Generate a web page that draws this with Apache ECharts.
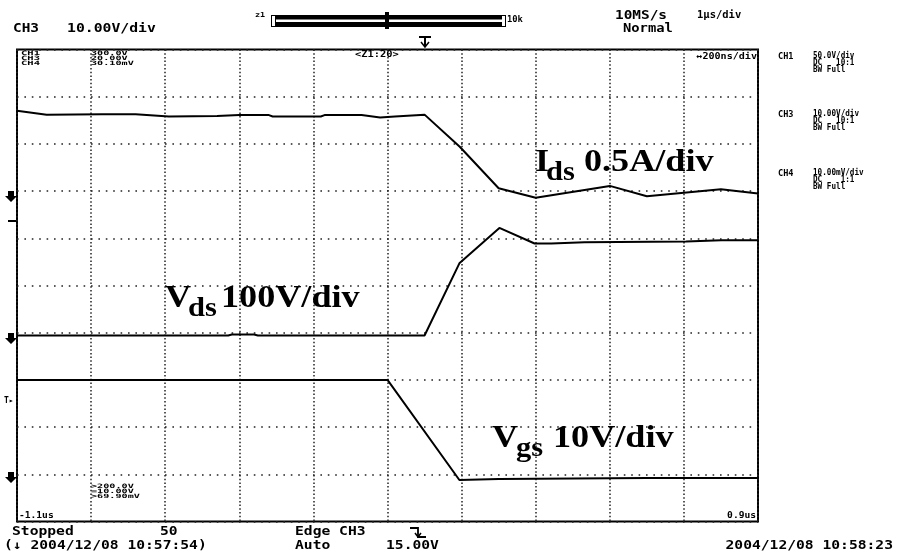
<!DOCTYPE html>
<html><head><meta charset="utf-8">
<script src="https://cdn.jsdelivr.net/npm/echarts@6/dist/echarts.min.js"></script>
<style>html,body{margin:0;padding:0;background:#fff}#c{width:897px;height:558px}</style>
</head><body><div id="c"></div>
<script>
// ---- data (time in ns relative to trigger) ----
const T_START = -1100;            // left edge of record, ns
const T_SPAN = 2000;               // record length, ns
const DIV_NS = 200;                // ns per division

const idsTime = [-1100,-1020,-870,-780,-690,-560,-500,-420,-410,-280,-270,-170,-120,-80,0,95,200,300,500,600,800,900];
const idsAmp  = [0.90,0.86,0.865,0.865,0.84,0.845,0.855,0.855,0.84,0.84,0.855,0.855,0.83,0.84,0.86,0.52,0.08,-0.02,0.105,-0.005,0.07,0.025];

const vdsTime = [-1100,-530,-520,-460,-450,0,94,202,297,342,432,706,801,900];
const vdsVolt = [0,0,2,2,0,0,153,228,195,195,197.5,199,202,202];

const vgsTime = [-1100,-100,94,200,400,600,900];
const vgsVolt = [20.8,20.8,-0.4,-0.2,-0.1,0,0];

// per-trace vertical scale (units/div) and ground position (div from bottom)
const idsScale = 0.5, idsGround = 6.9;
const vdsScale = 100, vdsGround = 3.94;
const vgsScale = 10,  vgsGround = 0.92;

function trace(times, vals, scale, ground){
  return times.map((t,i)=>[t - T_START, ground + vals[i]/scale]);
}

const chart = echarts.init(document.getElementById('c'), null, {renderer:'canvas'});
const MONO = '"DejaVu Sans Mono", monospace';
const SERIF = '"Liberation Serif", "Times New Roman", serif';

function T(text, x, y, size, opts){
  opts = opts || {};
  return {
    type:'text', x:x, y:y, scaleX: opts.sx||1, scaleY: opts.sy||1, z:100,
    style:{ text:text, x:0, y:0, fill:'#000',
      font:(opts.weight||'bold')+' '+size+'px '+(opts.family||MONO),
      textAlign: opts.align||'left', textVerticalAlign: opts.va||'top',
      lineHeight: opts.lh }
  };
}
function L(points, w){
  return {type:'polyline', z:100, shape:{points:points}, style:{stroke:'#000', lineWidth:w||1.5, fill:null}};
}
function groundMark(y){
  return {type:'polygon', z:100, shape:{points:[[8,y-5],[14,y-5],[14,y],[17,y],[11,y+6],[5,y],[8,y]]}, style:{fill:'#000'}};
}
// big serif label: main text at baseline y, subscript lower
function bigLabel(main, sub, rest, x, base, subX, restX){
  return [
    T(main, x, base-25, 32, {family:SERIF, sx:1.13}),
    T(sub, subX, base-12, 27, {family:SERIF, sx:1.13}),
    T(rest, restX, base-25, 32, {family:SERIF, sx:1.13})
  ];
}

const graphics = [
  // header
  T('CH3', 13, 23, 12, {sx:1.2}),
  T('10.00V/div', 67, 23, 12, {sx:1.23}),
  T('z1', 255, 12, 7, {sx:1.2}),
  {type:'rect', z:100, shape:{x:271, y:15, width:235, height:12}, style:{fill:'#000'}},
  {type:'rect', z:101, shape:{x:276, y:19.5, width:226, height:2.5}, style:{fill:'#fff'}},
  {type:'rect', z:101, shape:{x:272, y:16, width:3, height:10}, style:{fill:'#fff'}},
  {type:'rect', z:101, shape:{x:502, y:16, width:3, height:10}, style:{fill:'#fff'}},
  {type:'rect', z:102, shape:{x:385, y:12, width:4, height:17}, style:{fill:'#000'}},
  T('10k', 507, 16, 8, {sx:1.1}),
  T('10MS/s', 615, 10, 12, {sx:1.2}),
  T('1\u00b5s/div', 697, 10, 10, {sx:1.05}),
  T('Normal', 623, 23, 12, {sx:1.15}),
  // trigger position marker at top
  L([[419,37],[431,37]],2), L([[425,37],[425,46]],2), L([[421,42],[425,47],[429,42]],1.5),
  // in-plot top-left info
  T('CH1\nCH3\nCH4', 21, 51, 7, {sx:1.5, sy:0.85, lh:6}),
  T('300.0V\n20.00V\n30.10mV', 91, 51, 7, {sx:1.45, sy:0.85, lh:6}),
  T('<Z1:20>', 355, 51, 8, {sx:1.3}),
  T('\u2194200ns/div', 757, 52, 9, {sx:1.12, align:'right'}),
  // right panel
  T('CH1', 778, 52, 9, {sx:0.95}), T('50.0V/div\nDC   10:1\nBW Full', 813, 52, 9, {sx:0.85, lh:7}),
  T('CH3', 778, 110, 9, {sx:0.95}), T('10.00V/div\nDC   10:1\nBW Full', 813, 110, 9, {sx:0.85, lh:7}),
  T('CH4', 778, 169, 9, {sx:0.95}), T('10.00mV/div\nDC    1:1\nBW Full', 813, 169, 9, {sx:0.85, lh:7}),
  // in-plot bottom info
  T('>200.0V\n=10.00V\n>69.90mV', 91, 484, 7, {sx:1.45, sy:0.85, lh:6}),
  T('-1.1us', 19, 512, 8, {sx:1.2}),
  T('0.9us', 756, 512, 8, {sx:1.2, align:'right'}),
  // bottom status
  T('Stopped', 12, 526, 12, {sx:1.22}),
  T('50', 160, 526, 12, {sx:1.22}),
  T('(\u2193 2004/12/08 10:57:54)', 4, 540, 12, {sx:1.22}),
  T('Edge CH3', 295, 526, 12, {sx:1.22}),
  T('Auto', 295, 540, 12, {sx:1.22}),
  L([[410,528],[418,528],[418,537],[426,537]],1.8), L([[415,533],[418,537],[421,533]],1.5),
  T('15.00V', 386, 540, 12, {sx:1.22}),
  T('2004/12/08 10:58:23', 893, 540, 12, {sx:1.22, align:'right'}),
  // left channel markers
  groundMark(196), groundMark(338), groundMark(477),
  L([[8,221],[16,221]],2),
  T('T\u25b8', 4, 397, 8, {sx:1})
].concat(
  bigLabel('I', 'ds', '0.5A/div', 535, 172, 546, 584),
  bigLabel('V', 'ds', '100V/div', 165, 308, 188, 221),
  bigLabel('V', 'gs', '10V/div', 492, 448, 516, 553)
);

const lineStyle = {color:'#000', width:2};
chart.setOption({
  animation:false,
  backgroundColor:'#fff',
  grid:{left:17, top:49.5, width:741, height:472, show:true, borderColor:'#000', borderWidth:2, backgroundColor:'transparent'},
  xAxis:{type:'value', min:0, max:T_SPAN, interval:DIV_NS,
    axisLine:{show:false}, axisTick:{show:false}, axisLabel:{show:false},
    splitLine:{show:true, lineStyle:{color:'#222', width:1.5, type:[1.5,2.2]}}},
  yAxis:{type:'value', min:0, max:10, interval:1,
    axisLine:{show:false}, axisTick:{show:false}, axisLabel:{show:false},
    splitLine:{show:true, lineStyle:{color:'#222', width:1.6, type:[1.6,5.8]}}},
  series:[
    {name:'Ids', type:'line', symbol:'none', data:trace(idsTime, idsAmp, idsScale, idsGround), lineStyle:lineStyle, z:5},
    {name:'Vds', type:'line', symbol:'none', data:trace(vdsTime, vdsVolt, vdsScale, vdsGround), lineStyle:lineStyle, z:5},
    {name:'Vgs', type:'line', symbol:'none', data:trace(vgsTime, vgsVolt, vgsScale, vgsGround), lineStyle:lineStyle, z:5}
  ],
  graphic: graphics
});
</script>
</body></html>
